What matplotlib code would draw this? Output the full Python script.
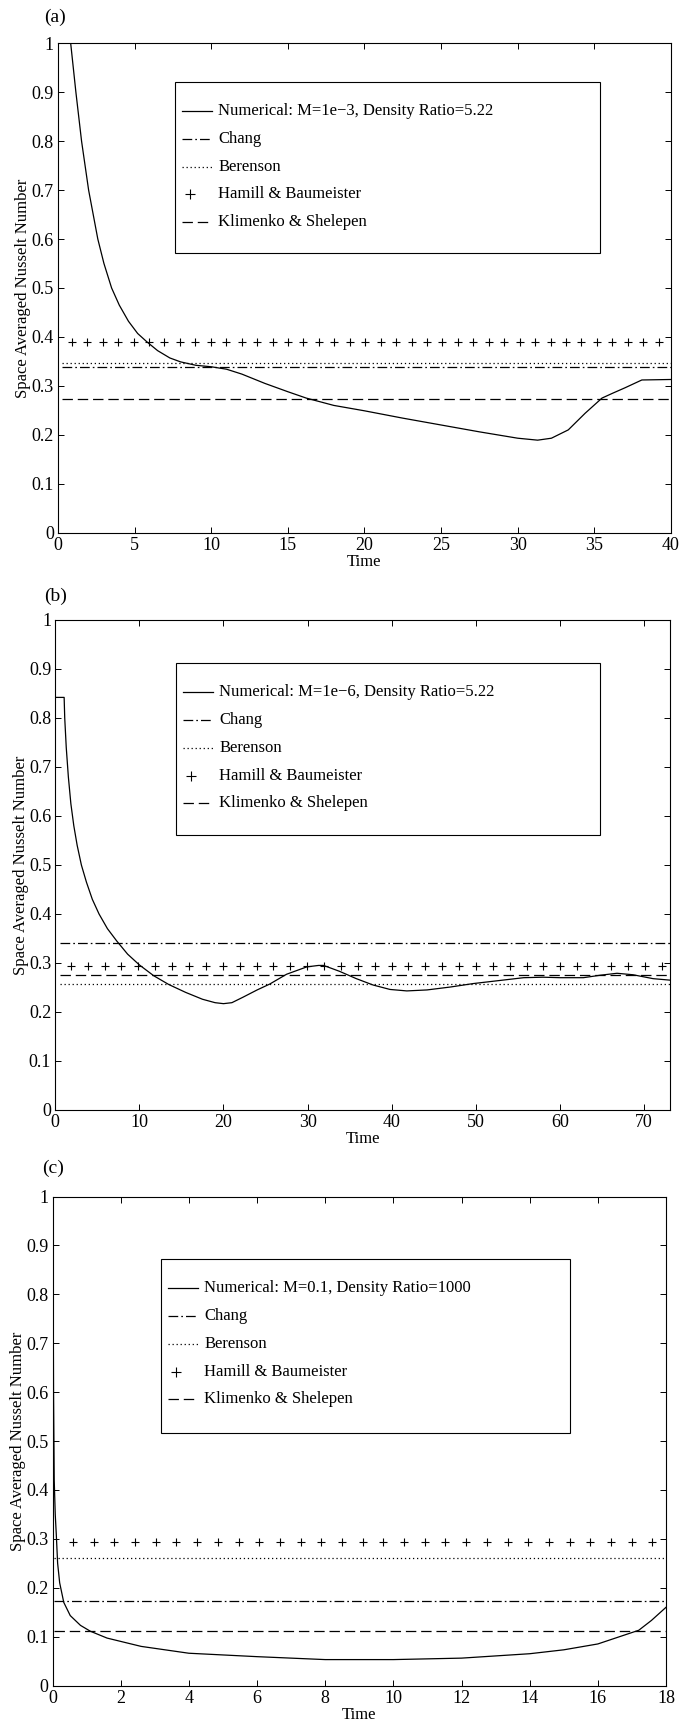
import numpy as np
import matplotlib
matplotlib.use('Agg')
from matplotlib import pyplot as plt
from matplotlib.patches import Rectangle

plt.rcParams['font.family'] = ['Liberation Serif', 'DejaVu Serif']
plt.rcParams['font.size'] = 12
plt.rcParams['lines.scale_dashes'] = False

# ---- panel (a): M=1e-3, density ratio 5.22 ----
time_a = [0.83, 1.17, 1.54, 2.0, 2.6, 3.0, 3.5, 4.0, 4.6, 5.2, 5.8, 6.5, 7.3, 8.0,
          9.0, 10.0, 11.0, 12.0, 13.5, 15.0, 16.2, 18.0, 20.0, 22.5, 25.0, 27.5,
          30.0, 31.3, 32.2, 33.3, 34.4, 35.5, 36.2, 37.0, 38.1, 40.0]
nu_a = [1.0, 0.9, 0.8, 0.7, 0.6, 0.55, 0.5, 0.465, 0.432, 0.407, 0.39, 0.372, 0.357,
        0.349, 0.342, 0.339, 0.334, 0.324, 0.305, 0.288, 0.275, 0.26, 0.249, 0.234,
        0.22, 0.206, 0.193, 0.189, 0.193, 0.21, 0.244, 0.275, 0.285, 0.296, 0.312, 0.313]
chang_a = 0.338
berenson_a = 0.346
hamill_a = 0.390
klimenko_a = 0.274

# ---- panel (b): M=1e-6, density ratio 5.22 ----
time_b = [0, 1.05, 1.12, 1.3, 1.55, 1.85, 2.2, 2.6, 3.1, 3.7, 4.4, 5.2, 6.2, 7.3,
          8.6, 10.0, 11.7, 13.5, 15.5, 17.5, 19.0, 20.0, 21.0, 22.3, 24.0, 25.5,
          27.5, 29.9, 31.3, 31.9, 33.8, 35.8, 37.8, 39.8, 41.8, 44.2, 47.0, 49.7,
          52.7, 55.7, 58.0, 60.0, 62.8, 64.8, 66.8, 68.7, 71.1, 73.1]
nu_b = [0.842, 0.842, 0.80, 0.74, 0.68, 0.625, 0.58, 0.54, 0.50, 0.465, 0.43, 0.40,
        0.37, 0.345, 0.318, 0.296, 0.274, 0.256, 0.24, 0.226, 0.219, 0.217, 0.219,
        0.23, 0.245, 0.257, 0.277, 0.292, 0.295, 0.295, 0.283, 0.268, 0.255, 0.246,
        0.243, 0.245, 0.251, 0.258, 0.264, 0.27, 0.271, 0.27, 0.27, 0.275, 0.279,
        0.276, 0.268, 0.265]
chang_b = 0.340
berenson_b = 0.258
hamill_b = 0.294
klimenko_b = 0.276

# ---- panel (c): M=0.1, density ratio 1000 ----
time_c = [0.01, 0.03, 0.05, 0.08, 0.11, 0.15, 0.21, 0.33, 0.52, 0.82, 1.11, 1.6,
          2.6, 4.0, 6.0, 8.0, 10.0, 12.0, 14.0, 15.0, 16.0, 17.2, 17.57, 18.0]
nu_c = [1.0, 0.6, 0.42, 0.35, 0.31, 0.25, 0.21, 0.17, 0.143, 0.123, 0.111, 0.097,
        0.08, 0.066, 0.059, 0.053, 0.053, 0.056, 0.065, 0.073, 0.085, 0.113, 0.133, 0.16]
chang_c = 0.173
berenson_c = 0.260
hamill_c = 0.294
klimenko_c = 0.111

labels_a = ['Numerical: M=1e\u22123, Density Ratio=5.22', 'Chang', 'Berenson',
            'Hamill & Baumeister', 'Klimenko & Shelepen']
labels_b = ['Numerical: M=1e\u22126, Density Ratio=5.22', 'Chang', 'Berenson',
            'Hamill & Baumeister', 'Klimenko & Shelepen']
labels_c = ['Numerical: M=0.1, Density Ratio=1000', 'Chang', 'Berenson',
            'Hamill & Baumeister', 'Klimenko & Shelepen']

yticks = [0, 0.1, 0.2, 0.3, 0.4, 0.5, 0.6, 0.7, 0.8, 0.9, 1]

dashdot = (0, (7, 2.2, 1.2, 2.2))
dotted = (0, (0.9, 2.0))
dashed = (0, (7.5, 3.5))
lw = 0.9


def draw_panel(ax, t, nu, consts, t0, xmax, xticks, hamill_t, box, labels):
    chang, berenson, hamill, klimenko = consts
    ax.plot(t, nu, color='black', lw=lw)
    ax.plot([t0, xmax], [chang, chang], color='black', lw=lw, linestyle=dashdot)
    ax.plot([t0, xmax], [berenson, berenson], color='black', lw=lw, linestyle=dotted)
    ax.plot(hamill_t, [hamill] * len(hamill_t), '+', color='black', ms=5.5, mew=0.8)
    ax.plot([t0, xmax], [klimenko, klimenko], color='black', lw=lw, linestyle=dashed)

    ax.set_xlim(0, xmax)
    ax.set_ylim(0, 1)
    ax.set_xticks(xticks)
    ax.set_yticks(yticks)
    ax.set_yticklabels(['%g' % v for v in yticks])
    ax.tick_params(direction='in', top=True, right=True, length=4.5, width=0.7,
                   pad=3, labelsize=13)
    for s in ax.spines.values():
        s.set_linewidth(0.8)
    ax.set_xlabel('Time', fontsize=12, labelpad=0)
    ax.set_ylabel('Space Averaged Nusselt Number', fontsize=12, labelpad=0)

    # legend box drawn like the old MATLAB one
    x0, y0, x1, y1 = box
    ax.add_patch(Rectangle((x0, y0), x1 - x0, y1 - y0, transform=ax.transAxes,
                           facecolor='white', edgecolor='black', lw=0.8, zorder=4))
    wpx = ax.bbox.width
    hpx = ax.bbox.height
    hx0 = x0 + 7 / wpx
    hx1 = x0 + 37 / wpx
    tx = x0 + 43 / wpx
    styles = ['-', dashdot, dotted, None, dashed]
    for i, lab in enumerate(labels):
        y = y1 - (29 + i * 27.8) / hpx
        if styles[i] is None:
            ax.plot([x0 + 15 / wpx], [y], '+', color='black', ms=6.5, mew=0.8,
                    transform=ax.transAxes, zorder=5, clip_on=False)
        else:
            ax.plot([hx0, hx1], [y, y], color='black', lw=lw, linestyle=styles[i],
                    transform=ax.transAxes, zorder=5, clip_on=False)
        ax.text(tx, y, lab, transform=ax.transAxes, va='center', ha='left',
                fontsize=12, zorder=5)


fig = plt.figure(figsize=(6.82, 17.26), dpi=100)

ax_a = fig.add_axes([0.0850, 0.6914, 0.8988, 0.2835])
ax_b = fig.add_axes([0.0811, 0.3569, 0.9013, 0.2839])
ax_c = fig.add_axes([0.0770, 0.02346, 0.8996, 0.2833])

draw_panel(ax_a, time_a, nu_a, (chang_a, berenson_a, hamill_a, klimenko_a),
           0.25, 40, range(0, 41, 5), np.linspace(0.9, 39.2, 39),
           (0.191, 0.5715, 0.884, 0.921), labels_a)
draw_panel(ax_b, time_b, nu_b, (chang_b, berenson_b, hamill_b, klimenko_b),
           0.6, 73.1, range(0, 71, 10), np.linspace(1.85, 72.1, 36),
           (0.197, 0.561, 0.886, 0.912), labels_b)
draw_panel(ax_c, time_c, nu_c, (chang_c, berenson_c, hamill_c, klimenko_c),
           0.05, 18, range(0, 19, 2), np.linspace(0.6, 17.6, 29),
           (0.177, 0.516, 0.8435, 0.872), labels_c)

fig.text(44 / 682, 1 - 17 / 1726, '(a)', fontsize=14, va='center', ha='left')
fig.text(44 / 682, 1 - 596 / 1726, '(b)', fontsize=14, va='center', ha='left')
fig.text(42 / 682, 1 - 1168 / 1726, '(c)', fontsize=14, va='center', ha='left')

plt.savefig('out.png', dpi=100)
